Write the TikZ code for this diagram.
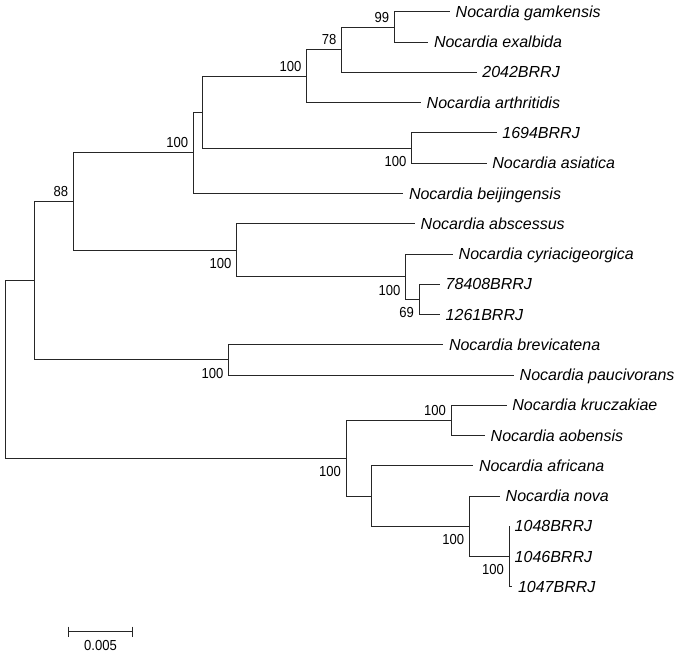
\documentclass[tikz,border=0pt]{standalone}
\usepackage{fontspec}
\setmainfont{Liberation Sans}
\newfontfamily\numfont[FakeStretch=0.9]{Liberation Sans}
\begin{document}
\begin{tikzpicture}[x=1pt,y=-1pt,
  br/.style={draw=black!85, line width=1pt},
  leaf/.style={anchor=base west, inner sep=0pt, xshift=5.5pt, yshift=-5.5pt,
    font=\fontsize{16}{19}\selectfont\itshape},
  bsa/.style={anchor=base east, inner sep=0pt, xshift=-5pt, yshift=5pt,
    font=\numfont\fontsize{14.5}{17}\selectfont},
  bsb/.style={anchor=north east, inner sep=0pt, xshift=-5pt, yshift=-8pt,
    font=\numfont\fontsize{14.5}{17}\selectfont}]
\useasboundingbox (0,0) rectangle (679,655);
% leaves
\coordinate (l1) at (450,12);
\coordinate (l2) at (428.3,42.25);
\coordinate (l3) at (476.7,72.5);
\coordinate (l4) at (421,102.75);
\coordinate (l5) at (496.7,133);
\coordinate (l6) at (486.7,163.25);
\coordinate (l7) at (403.3,193.5);
\coordinate (l8) at (415,223.75);
\coordinate (l9) at (453,254);
\coordinate (l10) at (440,284.25);
\coordinate (l11) at (440,314.5);
\coordinate (l12) at (443.3,344.75);
\coordinate (l13) at (514,375);
\coordinate (l14) at (506.7,405.25);
\coordinate (l15) at (485,435.5);
\coordinate (l16) at (473.3,465.75);
\coordinate (l17) at (500,496);
\coordinate (l18) at (509,526.25);
\coordinate (l19) at (509,556.5);
\coordinate (l20) at (512.3,586.75);
% internal nodes
\coordinate (n99) at (394.3,27.1);
\coordinate (n78) at (341.7,49.8);
\coordinate (nAa) at (306.7,76.3);
\coordinate (nP) at (411.7,148.1);
\coordinate (nA) at (202.3,112.2);
\coordinate (nB) at (193.3,152.9);
\coordinate (nC) at (419,299.4);
\coordinate (nD) at (405.7,276.7);
\coordinate (nE) at (236.7,250.2);
\coordinate (n88) at (73.3,201.6);
\coordinate (nF) at (228.7,359.9);
\coordinate (nG) at (34,280.7);
\coordinate (nH) at (451,420.4);
\coordinate (nI) at (509,556.5);
\coordinate (nJ) at (469.3,526.25);
\coordinate (nK) at (371.7,496);
\coordinate (nL) at (346,458.2);
\coordinate (root) at (5,369.5);
% branches
\path[br] (n99) |- (l1) (n99) |- (l2);
\path[br] (n78) |- (n99) (n78) |- (l3);
\path[br] (nAa) |- (n78) (nAa) |- (l4);
\path[br] (nP) |- (l5) (nP) |- (l6);
\path[br] (nA) |- (nAa) (nA) |- (nP);
\path[br] (nB) |- (nA) (nB) |- (l7);
\path[br] (nC) |- (l10) (nC) |- (l11);
\path[br] (nD) |- (l9) (nD) |- (nC);
\path[br] (nE) |- (l8) (nE) |- (nD);
\path[br] (n88) |- (nB) (n88) |- (nE);
\path[br] (nF) |- (l12) (nF) |- (l13);
\path[br] (nG) |- (n88) (nG) |- (nF);
\path[br] (nH) |- (l14) (nH) |- (l15);
\path[br] (nI) |- (l18) (nI) |- (l19) (nI) |- (l20);
\path[br] (nJ) |- (l17) (nJ) |- (nI);
\path[br] (nK) |- (l16) (nK) |- (nJ);
\path[br] (nL) |- (nH) (nL) |- (nK);
\path[br] (root) |- (nG) (root) |- (nL);
% leaf labels
\node[leaf] (t1) at (l1) {Nocardia gamkensis};
\node[leaf] (t2) at (l2) {Nocardia exalbida};
\node[leaf] (t3) at (l3) {2042BRRJ};
\node[leaf] (t4) at (l4) {Nocardia arthritidis};
\node[leaf] (t5) at (l5) {1694BRRJ};
\node[leaf] (t6) at (l6) {Nocardia asiatica};
\node[leaf] (t7) at (l7) {Nocardia beijingensis};
\node[leaf] (t8) at (l8) {Nocardia abscessus};
\node[leaf] (t9) at (l9) {Nocardia cyriacigeorgica};
\node[leaf] (t10) at (l10) {78408BRRJ};
\node[leaf] (t11) at (l11) {1261BRRJ};
\node[leaf] (t12) at (l12) {Nocardia brevicatena};
\node[leaf] (t13) at (l13) {Nocardia paucivorans};
\node[leaf] (t14) at (l14) {Nocardia kruczakiae};
\node[leaf] (t15) at (l15) {Nocardia aobensis};
\node[leaf] (t16) at (l16) {Nocardia africana};
\node[leaf] (t17) at (l17) {Nocardia nova};
\node[leaf] (t18) at (l18) {1048BRRJ};
\node[leaf] (t19) at (l19) {1046BRRJ};
\node[leaf] (t20) at (l20) {1047BRRJ};
% bootstrap values
\node[bsa] (b99) at (n99) {99};
\node[bsa] (b78) at (n78) {78};
\node[bsa] (bAa) at (nAa) {100};
\node[bsb] (bP) at (nP) {100};
\node[bsa] (bB) at (nB) {100};
\node[bsa] (b88) at (n88) {88};
\node[bsb] (bE) at (nE) {100};
\node[bsb] (bD) at (nD) {100};
\node[bsb] (bC) at (nC) {69};
\node[bsb] (bF) at (nF) {100};
\node[bsa] (bH) at (nH) {100};
\node[bsb] (bL) at (nL) {100};
\node[bsb] (bJ) at (nJ) {100};
\node[bsb] (bI) at (nI) {100};
% scale bar
\coordinate (s1) at (68.3,631.7);
\coordinate (s2) at (132.7,631.7);
\path[br] (s1) -- (s2);
\path[br] ([yshift=5pt]s1) -- ([yshift=-5pt]s1);
\path[br] ([yshift=5pt]s2) -- ([yshift=-5pt]s2);
\node[anchor=north, inner sep=0pt, font=\numfont\fontsize{14.5}{17}\selectfont] (sl) at (100.5,640) {0.005};
\end{tikzpicture}
\end{document}
